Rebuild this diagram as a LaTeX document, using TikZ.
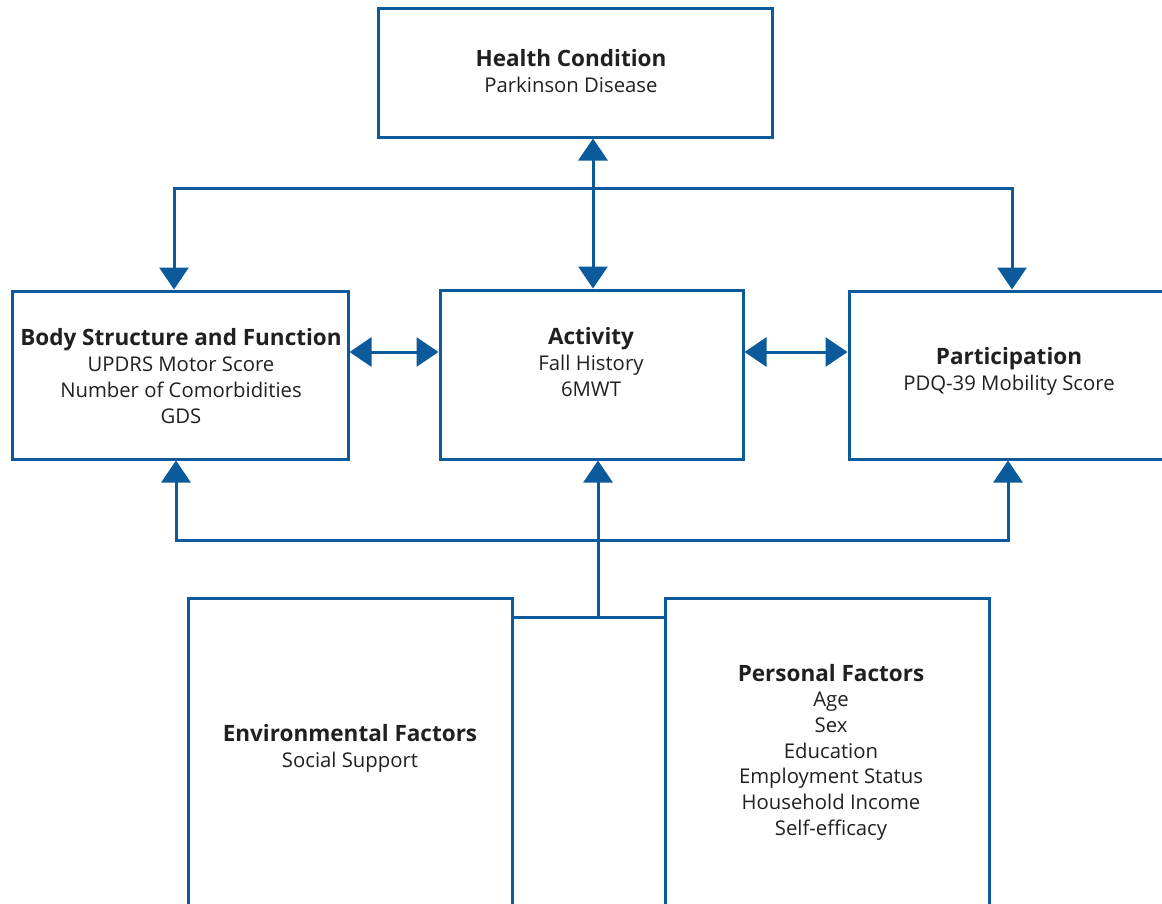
\documentclass[tikz,border=0pt]{standalone}
\usepackage{fontspec}
\setmainfont{Open Sans}
\usetikzlibrary{arrows.meta}
\definecolor{icfblue}{HTML}{0A5A9C}
\definecolor{icftext}{HTML}{231F20}
\newcommand{\ttl}[1]{{\fontsize{22.5}{26}\selectfont\bfseries #1}}
\begin{document}
\begin{tikzpicture}[x=1pt,y=-1pt,
  box/.style={draw=icfblue,line width=3pt,rectangle,inner sep=0pt},
  txt/.style={text=icftext,align=center,font=\fontsize{20.3}{26}\selectfont,inner sep=0pt},
  ln/.style={draw=icfblue,line width=3pt},
  tip/.style={-{Triangle[width=29pt,length=22pt]}},
  tips/.style={{Triangle[width=29pt,length=22pt]}-{Triangle[width=29pt,length=22pt]}}]
\useasboundingbox (0,0) rectangle (1162,903);
\clip (0,0) rectangle (1162,903);
% boxes
\node[box,minimum width=394pt,minimum height=129pt] (hc) at (575,72.5) {};
\node[box,minimum width=336pt,minimum height=168pt] (body) at (180,375) {};
\node[box,minimum width=303pt,minimum height=169pt] (act) at (591.5,374.5) {};
\node[box,minimum width=351pt,minimum height=168pt] (part) at (1024.5,375) {};
\node[box,minimum width=324pt,minimum height=402pt] (env) at (350,799) {};
\node[box,minimum width=324pt,minimum height=402pt] (pers) at (827,799) {};
% texts
\node[txt] (hct) at (571,71) {\ttl{Health Condition}\\Parkinson Disease};
\node[txt] (bodyt) at (181,376) {\ttl{Body Structure and Function}\\UPDRS Motor Score\\Number of Comorbidities\\GDS};
\node[txt] (actt) at (591,362) {\ttl{Activity}\\Fall History\\6MWT};
\node[txt] (partt) at (1009,371) {\ttl{Participation}\\PDQ-39 Mobility Score};
\node[txt] (envt) at (350,748) {\ttl{Environmental Factors}\\Social Support};
\node[txt,font=\fontsize{20.3}{25.7}\selectfont] (perst) at (831,752) {\ttl{Personal Factors}\\Age\\Sex\\Education\\Employment Status\\Household Income\\Self-efficacy};
% coordinates
\coordinate (tl) at (174,188);
\coordinate (tr) at (1012,188);
\coordinate (tm) at (593,0);
\coordinate (bl) at (176,540);
\coordinate (br) at (1008,540);
\coordinate (j) at (598,617);
\coordinate (hy) at (0,352);
% top connectors
\draw[ln,line cap=rect] (tl) -- (tr);
\draw[ln,tip] (tl) -- (tl |- body.north);
\draw[ln,tip] (tr) -- (tr |- part.north);
\draw[ln,tips] (hc.south -| tm) -- (act.north -| tm);
% side double arrows
\draw[ln,tips] (body.east |- hy) -- (act.west |- hy);
\draw[ln,tips] (act.east |- hy) -- (part.west |- hy);
% bottom connectors
\draw[ln,line cap=rect] (bl) -- (br);
\draw[ln,tip] (bl) -- (bl |- body.south);
\draw[ln,tip] (br) -- (br |- part.south);
\draw[ln,tip] (j) -- (j |- act.south);
\draw[ln] (env.east |- j) -- (pers.west |- j);
\end{tikzpicture}
\end{document}
